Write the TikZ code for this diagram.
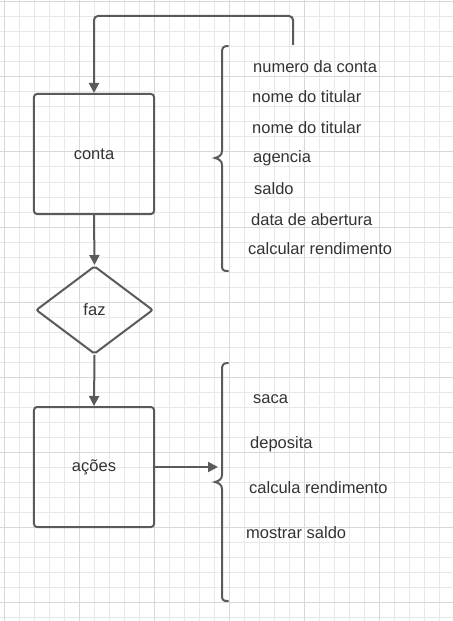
\documentclass[tikz,border=0pt]{standalone}
\usepackage{fontspec}
\setmainfont{Liberation Sans}
\usetikzlibrary{arrows.meta,shapes.geometric}
\definecolor{linec}{HTML}{5A5A5A}
\definecolor{textc}{HTML}{333333}
\definecolor{gridminor}{HTML}{E8E8E8}
\definecolor{gridmajor}{HTML}{D8D8D8}
\tikzset{
  box/.style={draw=linec, line width=2bp, rounded corners=3bp, minimum width=120bp, minimum height=120bp, inner sep=0pt, font=\fontsize{16.5bp}{19bp}\selectfont, text=textc},
  decision/.style={draw=linec, line width=2bp, diamond, rounded corners=2bp, minimum width=117bp, minimum height=88bp, inner sep=0pt, font=\fontsize{16.5bp}{19bp}\selectfont, text=textc},
  conn/.style={draw=linec, line width=2bp, -{Triangle[length=10bp,width=10bp]}},
  brace/.style={draw=linec, line width=2bp, line cap=round},
  item/.style={anchor=base west, inner sep=0pt, text=textc, font=\fontsize{16.5bp}{19bp}\selectfont},
}
\begin{document}
\begin{tikzpicture}[x=1bp,y=-1bp]
\useasboundingbox (0,0) rectangle (453,621);
\fill[white] (0,0) rectangle (453,621);
% grid
\foreach \i in {0,...,30} {\draw[gridminor, line width=1bp] (4+15*\i,0) -- (4+15*\i,621);}
\foreach \i in {0,...,41} {\draw[gridminor, line width=1bp] (0,2+15*\i) -- (453,2+15*\i);}
\foreach \i in {0,...,6} {\draw[gridmajor, line width=1bp] (4+75*\i,0) -- (4+75*\i,621);}
\foreach \i in {0,...,8} {\draw[gridmajor, line width=1bp] (0,2+75*\i) -- (453,2+75*\i);}
% nodes
\node[box] (conta) at (94,154) {conta};
\node[decision] (faz) at (94.5,310) {faz};
\node[box] (acoes) at (94,467) {ações};
\coordinate (loopstart) at (293,45);
\coordinate (b2) at (218,467);
% connectors
\draw[conn, rounded corners=4bp] (loopstart) -- (293,16) -- (94,16) -- (conta.north);
\draw[conn] (conta.south) -- (faz.north);
\draw[conn] (faz.south) -- (acoes.north);
\draw[conn] (acoes.east) -- (b2);
% braces
\draw[brace] (228,46) .. controls (223,46) and (222,48) .. (222,53) -- (222,151) .. controls (222,155) and (219,157) .. (215,158) .. controls (219,159) and (222,161) .. (222,165) -- (222,265) .. controls (222,270) and (223,271) .. (228,271);
\draw[brace] (228,363) .. controls (223,363) and (222,365) .. (222,370) -- (222,475) .. controls (222,479) and (219,481) .. (215,482) .. controls (219,483) and (222,485) .. (222,489) -- (222,595) .. controls (222,600) and (223,601) .. (228,601);
% items
\node[item] (i1) at (253,73) {numero da conta};
\node[item] (i2) at (252,103) {nome do titular};
\node[item] (i3) at (252,134) {nome do titular};
\node[item] (i4) at (253,163) {agencia};
\node[item] (i5) at (254,194) {saldo};
\node[item] (i6) at (251,225) {data de abertura};
\node[item] (i7) at (248,254) {calcular rendimento};
\node[item] (j1) at (253,403) {saca};
\node[item] (j2) at (250,448) {deposita};
\node[item] (j3) at (249,493) {calcula rendimento};
\node[item] (j4) at (246,538) {mostrar saldo};
\end{tikzpicture}
\end{document}
